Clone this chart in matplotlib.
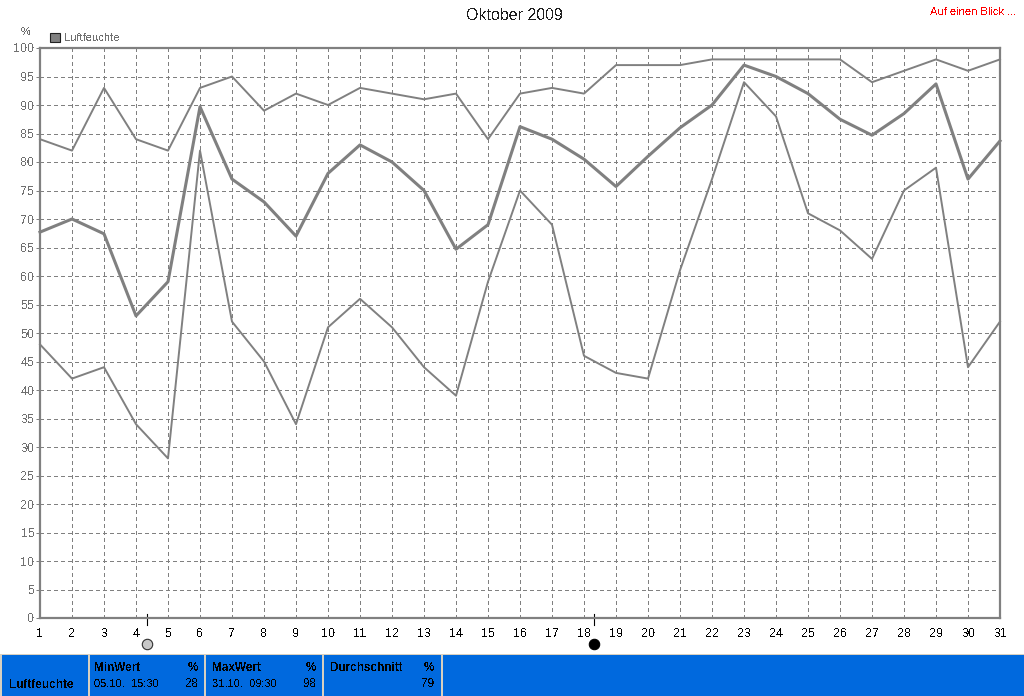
import numpy as np
from matplotlib import pyplot as plt
from matplotlib.patches import Rectangle

plt.rcParams['font.family'] = ['Liberation Sans', 'DejaVu Sans']
plt.rcParams['text.antialiased'] = False

##########################################################################

# Data

##########################################################################

days = np.arange(1, 32)
hum_max = [84, 82, 93, 84, 82, 93, 95, 89, 92, 90, 93, 92, 91, 92, 84, 92,
           93, 92, 97, 97, 97, 98, 98, 98, 98, 98, 94, 96, 98, 96, 98]
hum_avg = [67.7, 70, 67.4, 53, 59, 89.7, 77, 73, 67, 78, 83, 80, 75, 64.7, 69, 86.2,
           84, 80.5, 75.7, 81, 86, 90, 97, 95, 92, 87.5, 84.7, 88.5, 93.7, 77, 83.7]
hum_min = [48, 42, 44, 34, 28, 82, 52, 45, 34, 51, 56, 51, 44, 39, 59, 75,
           69, 46, 43, 42, 61, 77, 94, 88, 71, 68, 63, 75, 79, 44, 52]
y_ticks = np.arange(0, 101, 5)
moon_days = [4.34, 18.31]
moon_faces = ['#c8c8c8', 'black']

footer_edges = [0, 88, 204, 322, 441]

W, H = 1024, 696
GREY = '#808080'
TEXT_GREY = '#707070'
BLUE = '#0069DE'
EDGE = '#d8d0c0'

##########################################################################

# Chart

##########################################################################

fig = plt.figure(figsize=(W/100, H/100), dpi=100, facecolor='white')
ax = fig.add_axes([40/W, 1-618/H, 960/W, 570/H])

ax.set_xlim(1, 31)
ax.set_ylim(0, 100)
ax.set_xticks(days)
ax.set_yticks(y_ticks)
ax.grid(True, color=GREY, ls=(0, (4, 3)), lw=0.72, antialiased=False)
ax.set_axisbelow(True)
for s in ax.spines.values():
    s.set_color(GREY)
    s.set_linewidth(1.6)
ax.tick_params(axis='x', length=0, pad=7, labelsize=9, labelcolor='black')
ax.tick_params(axis='y', length=3, width=0.72, color=GREY, pad=1, labelsize=9, labelcolor=TEXT_GREY)

ax.plot(days, hum_max, color=GREY, lw=1.4, clip_on=False)
ax.plot(days, hum_min, color=GREY, lw=1.4, clip_on=False)
ax.plot(days, hum_avg, color=GREY, lw=2.2, clip_on=False)

# moon phases under the axis
trans = ax.get_xaxis_transform()
for d, c in zip(moon_days, moon_faces):
    ax.plot([d, d], [0.007, -0.012], color='black', lw=0.8, transform=trans, clip_on=False)
    ax.plot([d], [-0.045], marker='o', ms=7.5, mfc=c, mec='black' if c == 'black' else '#303030',
            mew=0.8, transform=trans, clip_on=False)

fig.text(514.5/W, 1-15/H, 'Oktober 2009', ha='center', va='center', fontsize=11.5, color='#202020')
fig.text(1016/W, 1-12/H, 'Auf einen Blick ...', ha='right', va='center', fontsize=8, color='red')
fig.text(26/W, 1-32/H, '%', ha='center', va='center', fontsize=8, color=TEXT_GREY)
fig.add_artist(Rectangle((50/W, 1-42/H), 10/W, 9/H, transform=fig.transFigure,
                         fc=GREY, ec='#202020', lw=0.8))
fig.text(64/W, 1-38/H, 'Luftfeuchte', ha='left', va='center', fontsize=8, color=TEXT_GREY)

##########################################################################

# Footer

##########################################################################

fig.add_artist(Rectangle((0, 0), 1, 42/H, transform=fig.transFigure, fc=BLUE, ec='none'))
fig.add_artist(Rectangle((0, 41/H), 1, 1.5/H, transform=fig.transFigure, fc=EDGE, ec='none'))
for x in footer_edges:
    fig.add_artist(Rectangle((x/W, 0), 1.5/W, 42/H, transform=fig.transFigure, fc=EDGE, ec='none'))


def foot(x, y, s, bold=False, ha='left', size=8.5):
    fig.text(x/W, 1-y/H, s, ha=ha, va='center', fontsize=size, color='black',
             fontweight='bold' if bold else 'normal')


foot(9, 685, 'Luftfeuchte', True)
foot(94, 668, 'MinWert', True)
foot(198, 668, '%', True, 'right')
foot(94, 684, '05.10.  15:30', size=8)
foot(198, 684, '28', ha='right')
foot(212, 668, 'MaxWert', True)
foot(316, 668, '%', True, 'right')
foot(212, 684, '31.10.  09:30', size=8)
foot(316, 684, '98', ha='right')
foot(330, 668, 'Durchschnitt', True)
foot(434, 668, '%', True, 'right')
foot(434, 684, '79', ha='right')

fig.savefig('out.png', dpi=100)
